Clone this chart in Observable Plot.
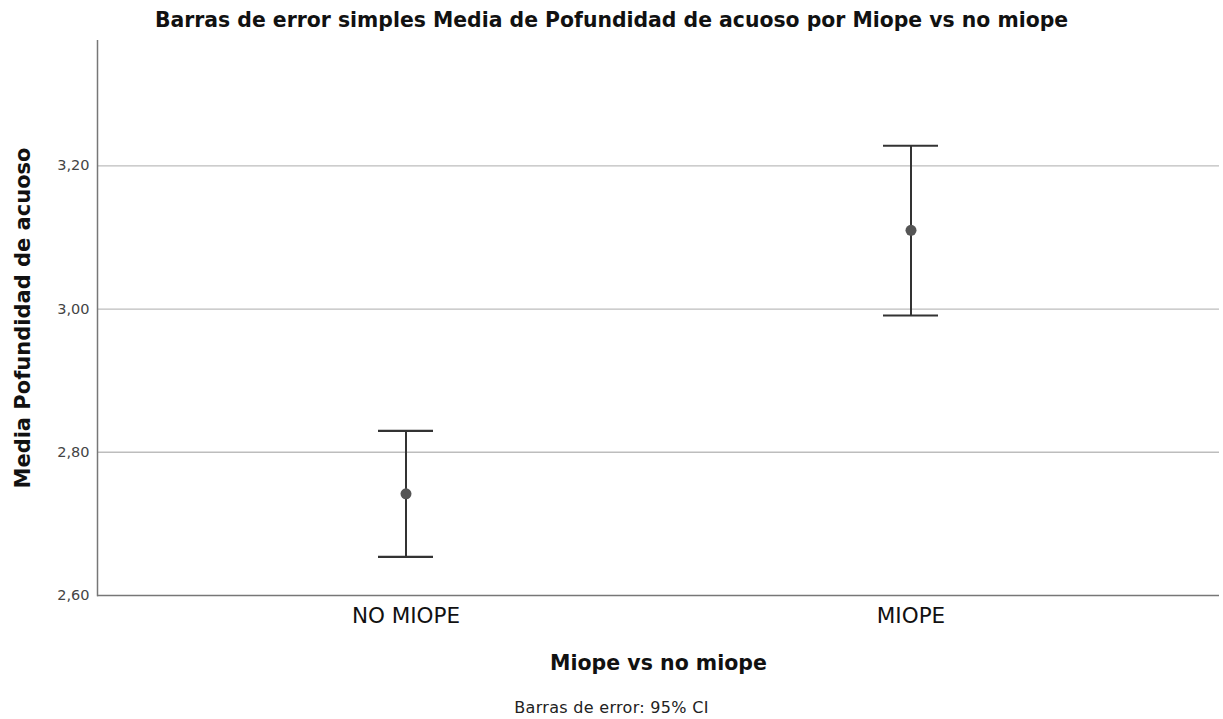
<!DOCTYPE html>
<html><head><meta charset="utf-8">
<script src="https://cdn.jsdelivr.net/npm/d3@7"></script>
<script src="https://cdn.jsdelivr.net/npm/@observablehq/plot@0.6"></script>
<style>
body{margin:0;background:#fff;font-family:"DejaVu Sans",sans-serif;}
#title{width:1223px;height:40px;line-height:40px;text-align:center;font-weight:bold;font-size:20.4px;color:#111;}
#caption{width:1223px;height:39px;line-height:56px;text-align:center;font-size:16px;letter-spacing:0.3px;color:#222;}
#chart svg{display:block;}
</style></head><body>
<div id="title">Barras de error simples Media de Pofundidad de acuoso por Miope vs no miope</div>
<div id="chart"></div>
<div id="caption">Barras de error: 95% CI</div>
<script>
const categories = ["NO MIOPE", "MIOPE"];
const means = [2.742, 3.110];
const lower = [2.654, 2.991];
const upper = [2.830, 3.228];
const yTicks = [2.6, 2.8, 3.0, 3.2];
const yDomain = [2.6, 3.375];
const yLabel = "Media Pofundidad de acuoso";
const xLabel = "Miope vs no miope";

const data = categories.map((c, i) => ({cat: c, mean: means[i], lo: lower[i], hi: upper[i]}));
const fmt = d => d.toFixed(2).replace(".", ",");

const chart = Plot.plot({
  width: 1223,
  height: 640,
  marginTop: 0,
  marginBottom: 85,
  marginLeft: 97,
  marginRight: 4,
  style: {fontFamily: "DejaVu Sans, sans-serif", background: "#fff"},
  x: {domain: categories, type: "band", paddingInner: 0.891, paddingOuter: 0.555},
  y: {domain: yDomain},
  marks: [
    Plot.gridY(yTicks.slice(1), {stroke: "#bdbdbd", strokeOpacity: 1, strokeWidth: 1.3}),
    Plot.axisY(yTicks, {tickSize: 0, tickPadding: 8, tickFormat: fmt, fontSize: 14.5, color: "#444", label: null}),
    Plot.axisX({tickSize: 0, tickPadding: 12, fontSize: 21.5, color: "#111", label: null}),
    Plot.ruleY([yDomain[0]], {stroke: "#777", strokeWidth: 1.5}),
    Plot.ruleX(data, {x: "cat", y1: "lo", y2: "hi", stroke: "#333", strokeWidth: 2}),
    Plot.tickY(data, {x: "cat", y: "hi", stroke: "#333", strokeWidth: 2.2}),
    Plot.tickY(data, {x: "cat", y: "lo", stroke: "#333", strokeWidth: 2.2}),
    Plot.dot(data, {x: "cat", y: "mean", r: 5.5, fill: "#555", stroke: "none"}),
    Plot.frame({anchor: "left", stroke: "#777", strokeWidth: 1.5}),
    Plot.text([yLabel], {frameAnchor: "left", textAnchor: "middle", lineAnchor: "middle", rotate: -90, dx: -74, fontSize: 21, fontWeight: "bold", fill: "#111"}),
    Plot.text([xLabel], {frameAnchor: "bottom", textAnchor: "middle", lineAnchor: "middle", dy: 68, fontSize: 20.5, fontWeight: "bold", fill: "#111"})
  ]
});
document.getElementById("chart").appendChild(chart);
</script>
</body></html>
